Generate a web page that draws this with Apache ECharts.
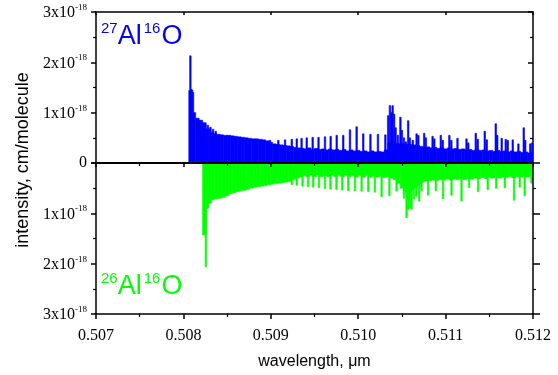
<!DOCTYPE html>
<html>
<head>
<meta charset="utf-8">
<script src="https://cdn.jsdelivr.net/npm/echarts@6/dist/echarts.min.js"></script>
<style>
  html, body { margin: 0; padding: 0; background: #fff; }
  #chart { width: 558px; height: 375px; }
</style>
</head>
<body>
<div id="chart"></div>
<script>
// [wavelength um, intensity in 1e-18 cm/molecule]
// 27Al16O: isolated / tall lines
const alo27Lines = [
  [0.50807, 1.44], [0.50808, 2.13], [0.50809, 1.46], [0.50810, 1.45], [0.50811, 1.40],
  [0.50819, 0.83], [0.50822, 0.79], [0.50825, 0.77], [0.50828, 0.75], [0.50831, 0.71],
  [0.50834, 0.67], [0.50837, 0.63],
  [0.508992, 0.45], [0.509086, 0.45], [0.509163, 0.46], [0.509240, 0.47], [0.509297, 0.48],
  [0.509352, 0.49], [0.509411, 0.50], [0.509479, 0.51], [0.509546, 0.51], [0.509620, 0.52],
  [0.509685, 0.53], [0.509754, 0.55], [0.509829, 0.55], [0.509906, 0.66], [0.509982, 0.72],
  [0.510058, 0.58], [0.510140, 0.57], [0.510226, 0.57], [0.510311, 0.56],
  [0.510343, 0.94], [0.510363, 1.14], [0.510380, 1.00], [0.510394, 1.14], [0.510411, 0.97],
  [0.510428, 0.70], [0.510454, 0.55], [0.510483, 0.91], [0.510500, 0.65], [0.510523, 0.50],
  [0.510545, 0.42], [0.510572, 0.84], [0.510591, 0.50], [0.510625, 0.45], [0.510668, 0.58],
  [0.510688, 0.55], [0.510755, 0.59], [0.510774, 0.50], [0.510851, 0.53], [0.510871, 0.48],
  [0.510945, 0.55], [0.510968, 0.45], [0.511043, 0.55], [0.511066, 0.45], [0.511136, 0.49],
  [0.511239, 0.48], [0.511260, 0.40], [0.511345, 0.59], [0.511368, 0.47], [0.511448, 0.63],
  [0.511471, 0.46], [0.511574, 0.78], [0.511591, 0.55], [0.511642, 0.49], [0.511688, 0.47],
  [0.511711, 0.45], [0.511768, 0.46], [0.511833, 0.38], [0.511894, 0.70], [0.511911, 0.45],
  [0.511968, 0.38], [0.511991, 0.40]
];

// 27Al16O: dense blend of weaker lines
const alo27Fill = [
  [0.50812, 1.00], [0.50816, 0.89], [0.50820, 0.85], [0.50824, 0.80], [0.50828, 0.68],
  [0.50832, 0.61], [0.50836, 0.58], [0.50840, 0.57], [0.50844, 0.56], [0.50848, 0.55],
  [0.50852, 0.55], [0.50856, 0.54], [0.50860, 0.53], [0.50864, 0.52], [0.50868, 0.51],
  [0.50872, 0.50], [0.50876, 0.49], [0.50880, 0.48], [0.50884, 0.48], [0.50888, 0.47],
  [0.50892, 0.46], [0.50896, 0.44], [0.50900, 0.41], [0.50904, 0.38], [0.50908, 0.37],
  [0.50912, 0.36], [0.50916, 0.35], [0.50920, 0.34], [0.50924, 0.33], [0.50928, 0.31],
  [0.50932, 0.30], [0.50936, 0.29], [0.50940, 0.28], [0.50944, 0.30], [0.50948, 0.27],
  [0.50952, 0.29], [0.50956, 0.27], [0.50960, 0.28], [0.50964, 0.26], [0.50968, 0.28],
  [0.50972, 0.26], [0.50976, 0.27], [0.50980, 0.25], [0.50984, 0.27], [0.50988, 0.24],
  [0.50992, 0.26], [0.50996, 0.24], [0.51000, 0.25], [0.51004, 0.23], [0.51008, 0.24],
  [0.51012, 0.22], [0.51016, 0.24], [0.51020, 0.22], [0.51024, 0.23], [0.51028, 0.22],
  [0.51032, 0.26], [0.51036, 0.40], [0.51040, 0.40], [0.51044, 0.39], [0.51048, 0.38],
  [0.51052, 0.38], [0.51056, 0.37], [0.51060, 0.37], [0.51064, 0.36], [0.51068, 0.35],
  [0.51072, 0.33], [0.51076, 0.31], [0.51080, 0.32], [0.51084, 0.30], [0.51088, 0.31],
  [0.51092, 0.29], [0.51096, 0.30], [0.51100, 0.28], [0.51104, 0.30], [0.51108, 0.28],
  [0.51112, 0.29], [0.51116, 0.27], [0.51120, 0.28], [0.51124, 0.26], [0.51128, 0.27],
  [0.51132, 0.25], [0.51136, 0.27], [0.51140, 0.25], [0.51144, 0.26], [0.51148, 0.24],
  [0.51152, 0.25], [0.51156, 0.23], [0.51160, 0.25], [0.51164, 0.23], [0.51168, 0.24],
  [0.51172, 0.22], [0.51176, 0.24], [0.51180, 0.22], [0.51184, 0.23], [0.51188, 0.21],
  [0.51192, 0.22], [0.51196, 0.20], [0.51200, 0.21]
];

// 26Al16O: isolated / tall lines (plotted downwards)
const alo26Lines = [
  [0.508257, 2.06],
  [0.509240, 0.43], [0.509297, 0.44], [0.509363, 0.46], [0.509426, 0.47], [0.509486, 0.48],
  [0.509551, 0.49], [0.509620, 0.51], [0.509683, 0.52], [0.509751, 0.53], [0.509818, 0.54],
  [0.509886, 0.55], [0.509963, 0.55], [0.510039, 0.56], [0.510115, 0.57], [0.510191, 0.58],
  [0.510268, 0.67], [0.510357, 0.65], [0.510439, 0.56],
  [0.510523, 0.70], [0.510553, 1.09], [0.510574, 0.92], [0.510591, 0.90], [0.510611, 0.92],
  [0.510637, 0.72], [0.510665, 0.66], [0.510698, 0.76], [0.510725, 0.55], [0.510800, 0.64],
  [0.510888, 0.55], [0.510972, 0.71], [0.511068, 0.64], [0.511182, 0.76], [0.511269, 0.49],
  [0.511372, 0.57], [0.511482, 0.53], [0.511579, 0.50], [0.511677, 0.49], [0.511783, 0.74],
  [0.511848, 0.48], [0.511905, 0.65], [0.511982, 0.40]
];

// 26Al16O: dense blend of weaker lines
const alo26Fill = [
  [0.50824, 1.43], [0.50827, 0.90], [0.50830, 0.80], [0.50834, 0.73], [0.50838, 0.71],
  [0.50842, 0.70], [0.50846, 0.68], [0.50850, 0.65], [0.50854, 0.61], [0.50858, 0.59],
  [0.50862, 0.57], [0.50866, 0.55], [0.50870, 0.54], [0.50874, 0.52], [0.50878, 0.50],
  [0.50882, 0.48], [0.50886, 0.47], [0.50890, 0.46], [0.50894, 0.45], [0.50898, 0.43],
  [0.50902, 0.42], [0.50906, 0.41], [0.50910, 0.40], [0.50914, 0.39], [0.50918, 0.38],
  [0.50922, 0.36], [0.50926, 0.33], [0.50930, 0.30], [0.50934, 0.28], [0.50938, 0.25],
  [0.50942, 0.27], [0.50946, 0.24], [0.50950, 0.27], [0.50954, 0.24], [0.50958, 0.27],
  [0.50962, 0.25], [0.50966, 0.27], [0.50970, 0.24], [0.50974, 0.27], [0.50978, 0.25],
  [0.50982, 0.27], [0.50986, 0.24], [0.50990, 0.27], [0.50994, 0.25], [0.50998, 0.28],
  [0.51002, 0.25], [0.51006, 0.28], [0.51010, 0.25], [0.51014, 0.28], [0.51018, 0.26],
  [0.51022, 0.28], [0.51026, 0.26], [0.51030, 0.29], [0.51034, 0.27], [0.51038, 0.30],
  [0.51042, 0.33], [0.51046, 0.40], [0.51050, 0.50], [0.51054, 0.58], [0.51058, 0.56],
  [0.51062, 0.52], [0.51066, 0.48], [0.51070, 0.42], [0.51074, 0.38], [0.51078, 0.36],
  [0.51082, 0.35], [0.51086, 0.34], [0.51090, 0.35], [0.51094, 0.33], [0.51098, 0.34],
  [0.51102, 0.32], [0.51106, 0.34], [0.51110, 0.32], [0.51114, 0.33], [0.51118, 0.31],
  [0.51122, 0.33], [0.51126, 0.31], [0.51130, 0.32], [0.51134, 0.30], [0.51138, 0.31],
  [0.51142, 0.29], [0.51146, 0.31], [0.51150, 0.29], [0.51154, 0.30], [0.51158, 0.28],
  [0.51162, 0.30], [0.51166, 0.28], [0.51170, 0.29], [0.51174, 0.27], [0.51178, 0.29],
  [0.51182, 0.27], [0.51186, 0.28], [0.51190, 0.26], [0.51194, 0.28], [0.51198, 0.27]
];

const X_MIN = 0.507, X_MAX = 0.512, X_STEP = 0.001;
const Y_MAX = 3;

const BLUE = '#0000ff';
const GREEN = '#00ff00';
const SERIF = '"Liberation Serif", "Times New Roman", serif';
const SANS = '"Liberation Sans", Arial, sans-serif';

const chart = echarts.init(document.getElementById('chart'), null, { renderer: 'canvas' });

const line = (w) => ({ color: '#000', width: w });

function yLabel(hideZero) {
  return {
    show: true,
    margin: 9,
    color: '#000',
    fontFamily: SERIF,
    fontSize: 16,
    formatter: (v) => {
      if (v === 0) return hideZero ? '' : '0';
      return '{m|' + v + 'x10}{s|-18}';
    },
    rich: {
      m: { fontFamily: SERIF, fontSize: 16, color: '#000', lineHeight: 18, verticalAlign: 'bottom' },
      s: { fontFamily: SERIF, fontSize: 9, color: '#000', lineHeight: 10, verticalAlign: 'top' }
    }
  };
}

function xAxisFor(grid, pos, opts) {
  return Object.assign({
    gridIndex: grid, type: 'value', position: pos,
    min: X_MIN, max: X_MAX, interval: X_STEP,
    axisLine: { show: true, onZero: false, lineStyle: line(1.5) },
    axisTick: { show: true, inside: false, length: 5, lineStyle: line(1.5) },
    minorTick: { show: false },
    axisLabel: { show: false },
    splitLine: { show: false }
  }, opts);
}

function yAxisFor(grid, pos, inverse, opts) {
  return Object.assign({
    gridIndex: grid, type: 'value', position: pos, inverse: inverse,
    min: 0, max: Y_MAX, interval: 1,
    axisLine: { show: true, onZero: false, lineStyle: line(1.5) },
    axisTick: { show: true, inside: false, length: 5, lineStyle: line(1.5) },
    minorTick: { show: true, splitNumber: 2, length: 3, lineStyle: line(1.2) },
    axisLabel: { show: false },
    splitLine: { show: false }
  }, opts);
}

function titleFor(sup1, sup2, color, top) {
  const base = { fontFamily: SANS, fontWeight: 'normal', color: color };
  return {
    text: '{s|' + sup1 + '}{b|Al}{t|' + sup2 + '}{b|O}',
    left: 101, top: top, padding: 0,
    textStyle: {
      fontWeight: 'normal',
      rich: {
        s: Object.assign({ fontSize: 15, lineHeight: 16, verticalAlign: 'top' }, base),
        t: Object.assign({ fontSize: 15, lineHeight: 16, verticalAlign: 'top', padding: [0, 1, 0, 2] }, base),
        b: Object.assign({ fontSize: 27, lineHeight: 29, verticalAlign: 'bottom' }, base)
      }
    }
  };
}

// each spectral line is a thin rectangle from 0 up to its intensity
function sticks(data, xi, yi, width, color) {
  return {
    type: 'custom', xAxisIndex: xi, yAxisIndex: yi, data: data,
    silent: true, clip: true,
    encode: { x: 0, y: 1 },
    renderItem: (params, api) => {
      const x = api.value(0);
      const p0 = api.coord([x, 0]);
      const p1 = api.coord([x, api.value(1)]);
      return {
        type: 'rect',
        shape: {
          x: p0[0] - width / 2, y: Math.min(p0[1], p1[1]),
          width: width, height: Math.abs(p1[1] - p0[1])
        },
        style: { fill: color, stroke: color, lineWidth: 0.6 }
      };
    }
  };
}

chart.setOption({
  animation: false,
  title: [titleFor('27', '16', BLUE, 21), titleFor('26', '16', GREEN, 271)],
  grid: [
    { left: 96, right: 25, top: 12, height: 151 },
    { left: 96, right: 25, top: 163, height: 151 }
  ],
  xAxis: [
    // zero line between the two panels
    xAxisFor(0, 'bottom', {
      z: 5,
      axisLine: { show: true, onZero: false, lineStyle: line(2) },
      axisTick: { show: true, inside: false, length: 4, lineStyle: line(1.5) },
      minorTick: { show: true, splitNumber: 2, length: 3, lineStyle: line(1.2) }
    }),
    xAxisFor(0, 'top', {
      axisTick: { show: true, inside: true, length: 3, lineStyle: line(1.5) }
    }),
    xAxisFor(1, 'bottom', {
      minorTick: { show: true, splitNumber: 2, length: 3, lineStyle: line(1.2) },
      axisLabel: {
        show: true, margin: 14, color: '#000', fontFamily: SERIF, fontSize: 16,
        formatter: (v) => v.toFixed(3)
      },
      name: 'wavelength, \u03bcm', nameLocation: 'middle', nameGap: 40,
      nameTextStyle: { fontFamily: SANS, fontSize: 16, color: '#000' }
    })
  ],
  yAxis: [
    yAxisFor(0, 'left', false, { axisLabel: yLabel(false) }),
    yAxisFor(0, 'right', false, {
      axisTick: { show: true, inside: true, length: 5, lineStyle: line(1.5) }
    }),
    yAxisFor(1, 'left', true, { axisLabel: yLabel(true) }),
    yAxisFor(1, 'right', true, {
      z: 5,
      axisTick: { show: true, inside: false, length: 7, lineStyle: line(1.5) }
    })
  ],
  graphic: [{
    type: 'text', x: 23, y: 160, rotation: Math.PI / 2,
    style: {
      text: 'intensity, cm/molecule', fill: '#000',
      font: '18px "Liberation Sans", Arial, sans-serif',
      align: 'center', verticalAlign: 'middle'
    }
  }],
  series: [
    sticks(alo27Fill, 0, 0, 3.6, BLUE),
    sticks(alo27Lines, 0, 0, 1.5, BLUE),
    sticks(alo26Fill, 2, 2, 3.6, GREEN),
    sticks(alo26Lines, 2, 2, 1.5, GREEN)
  ]
});
</script>
</body>
</html>
